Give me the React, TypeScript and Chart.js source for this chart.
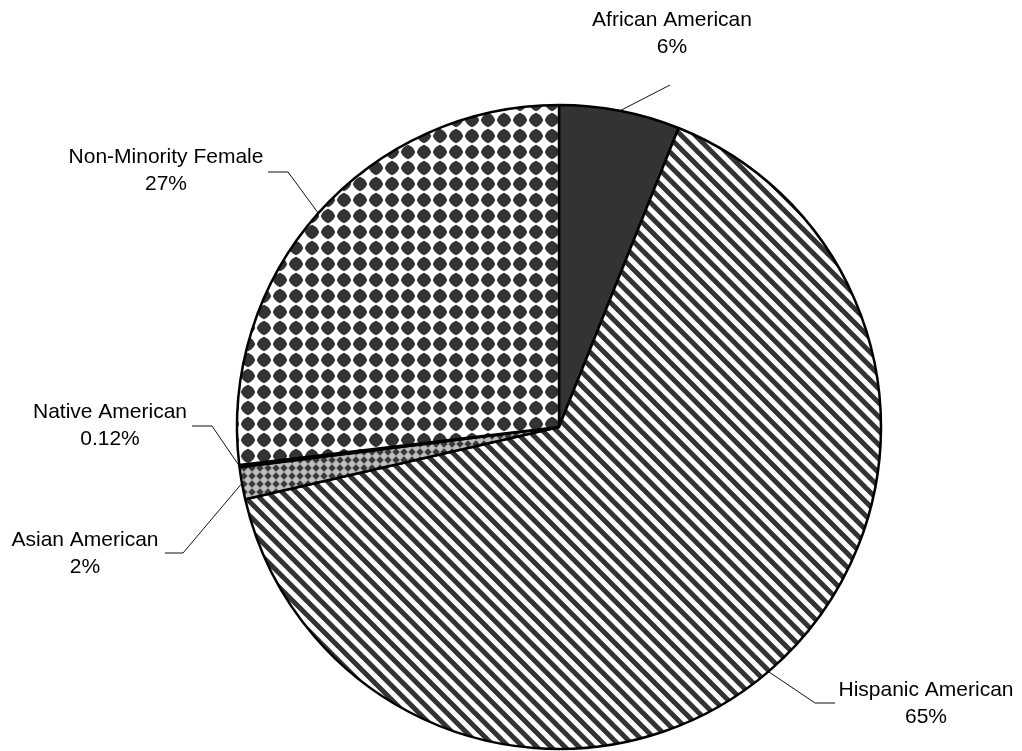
import React, { useEffect, useRef } from "react";
import { Chart, registerables } from "chart.js";

Chart.register(...registerables);

const categories = [
  "African American",
  "Hispanic American",
  "Asian American",
  "Native American",
  "Non-Minority Female",
];
const shares = [6.06, 65.4, 1.6, 0.12, 26.9];
const shareLabels = ["6%", "65%", "2%", "0.12%", "27%"];

// label layout: text centre (tx, ty line1), leader horizontal segment from hx1 to hx2 at hy, then to arc
const labelLayout = [
  { tx: 672, ty: 20, hx1: 670, hx2: 670, hy: 85 },
  { tx: 926, ty: 690, hx1: 835, hx2: 815, hy: 703 },
  { tx: 85, ty: 540, hx1: 165, hx2: 183, hy: 553 },
  { tx: 110, ty: 412, hx1: 192, hx2: 212, hy: 426 },
  { tx: 166, ty: 157, hx1: 268, hx2: 288, hy: 172 },
];

function makePattern(kind: string): CanvasPattern | string {
  const c = document.createElement("canvas");
  const ctx = c.getContext("2d");
  if (!ctx) return "#777";
  if (kind === "stripes") {
    const s = 14;
    c.width = s;
    c.height = s;
    ctx.fillStyle = "#ffffff";
    ctx.fillRect(0, 0, s, s);
    ctx.strokeStyle = "#333333";
    ctx.lineWidth = 5;
    for (const k of [-1, 0, 1]) {
      ctx.beginPath();
      ctx.moveTo(k * s - 2, -2);
      ctx.lineTo(k * s + s + 2, s + 2);
      ctx.stroke();
    }
  } else if (kind === "diamonds") {
    const s = 16;
    c.width = s;
    c.height = s;
    ctx.fillStyle = "#ffffff";
    ctx.fillRect(0, 0, s, s);
    ctx.fillStyle = "#333333";
    const h = 7.2;
    const b = 0.75; // bulge factor
    const cx = 8;
    const cy = 8;
    ctx.beginPath();
    ctx.moveTo(cx, cy - h);
    ctx.quadraticCurveTo(cx + h * b, cy - h * b, cx + h, cy);
    ctx.quadraticCurveTo(cx + h * b, cy + h * b, cx, cy + h);
    ctx.quadraticCurveTo(cx - h * b, cy + h * b, cx - h, cy);
    ctx.quadraticCurveTo(cx - h * b, cy - h * b, cx, cy - h);
    ctx.closePath();
    ctx.fill();
  } else {
    const s = 8;
    c.width = s;
    c.height = s;
    ctx.fillStyle = "#bdbdbd";
    ctx.fillRect(0, 0, s, s);
    ctx.fillStyle = "#3a3a3a";
    ctx.beginPath();
    ctx.moveTo(4, 0.3);
    ctx.lineTo(7.7, 4);
    ctx.lineTo(4, 7.7);
    ctx.lineTo(0.3, 4);
    ctx.closePath();
    ctx.fill();
  }
  const p = ctx.createPattern(c, "repeat");
  return p || "#777";
}

const labelPlugin = {
  id: "leaderLabels",
  afterDatasetsDraw(chart: any) {
    const ctx = chart.ctx as CanvasRenderingContext2D;
    const meta = chart.getDatasetMeta(0);
    ctx.save();
    meta.data.forEach((arc: any, i: number) => {
      const { x, y, startAngle, endAngle, outerRadius } = arc.getProps(
        ["x", "y", "startAngle", "endAngle", "outerRadius"],
        true
      );
      const mid = (startAngle + endAngle) / 2;
      const ax = x + Math.cos(mid) * outerRadius;
      const ay = y + Math.sin(mid) * outerRadius;
      const L = labelLayout[i];
      ctx.strokeStyle = "#111111";
      ctx.lineWidth = 1;
      ctx.beginPath();
      ctx.moveTo(L.hx1, L.hy);
      ctx.lineTo(L.hx2, L.hy);
      ctx.lineTo(ax, ay);
      ctx.stroke();
      ctx.fillStyle = "#000000";
      ctx.font = '21px "Liberation Sans", Arial, sans-serif';
      ctx.textAlign = "center";
      ctx.textBaseline = "middle";
      ctx.fillText(categories[i], L.tx, L.ty);
      ctx.fillText(shareLabels[i], L.tx, L.ty + 27);
    });
    ctx.restore();
  },
};

export default function App() {
  const ref = useRef<HTMLCanvasElement | null>(null);
  useEffect(() => {
    if (!ref.current) return;
    const colors = [
      "#333333",
      makePattern("stripes"),
      makePattern("asian"),
      "#000000",
      makePattern("diamonds"),
    ];
    const chart = new Chart(ref.current, {
      type: "pie",
      data: {
        labels: categories,
        datasets: [
          {
            data: shares,
            backgroundColor: colors as any,
            borderColor: "#000000",
            borderWidth: 2.5,
          },
        ],
      },
      options: {
        animation: false,
        responsive: false,
        radius: 322,
        layout: { padding: { left: 96, right: 0, top: 103, bottom: 0 } },
        plugins: {
          legend: { display: false },
          tooltip: { enabled: false },
        },
      } as any,
      plugins: [labelPlugin],
    });
    return () => chart.destroy();
  }, []);
  return (
    <div
      style={{
        position: "fixed",
        left: 0,
        top: 0,
        width: 1022,
        height: 751,
        background: "#ffffff",
      }}
    >
      <canvas ref={ref} width={1022} height={751} />
    </div>
  );
}
